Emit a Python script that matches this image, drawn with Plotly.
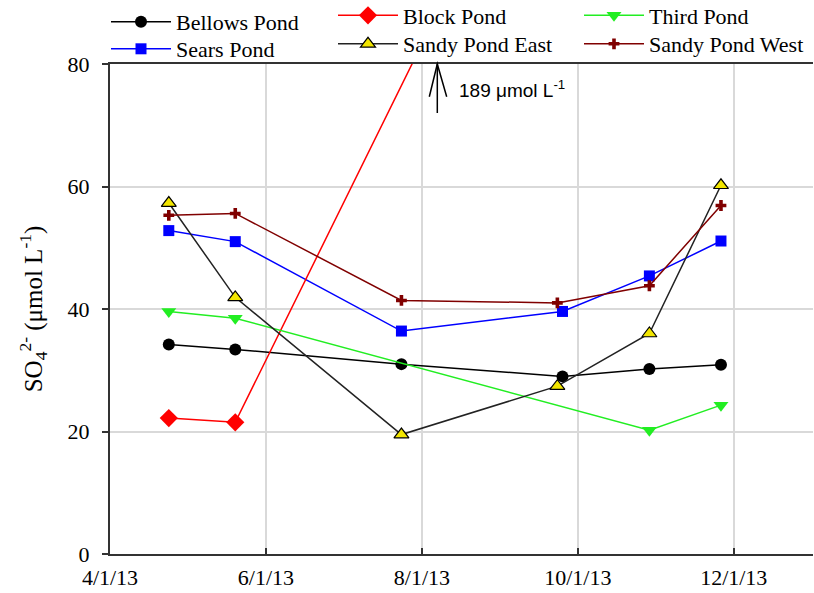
import plotly.graph_objects as go

# Sulfate concentrations (umol/L) by pond and sampling date
bellows_dates = ["2013-04-24", "2013-05-20", "2013-07-24", "2013-09-25", "2013-10-29", "2013-11-26"]
bellows_so4 = [34.2, 33.4, 31.0, 29.0, 30.2, 30.9]

sears_dates = ["2013-04-24", "2013-05-20", "2013-07-24", "2013-09-25", "2013-10-29", "2013-11-26"]
sears_so4 = [52.8, 51.0, 36.4, 39.6, 45.4, 51.1]

block_dates = ["2013-04-24", "2013-05-20", "2013-12-04"]
block_so4 = [22.2, 21.5, 189]

third_dates = ["2013-04-24", "2013-05-20", "2013-10-29", "2013-11-26"]
third_so4 = [39.6, 38.5, 20.2, 24.3]

sandy_east_dates = ["2013-04-24", "2013-05-20", "2013-07-24", "2013-09-23", "2013-10-29", "2013-11-26"]
sandy_east_so4 = [57.3, 41.9, 19.5, 27.4, 36.0, 60.2]

sandy_west_dates = ["2013-04-24", "2013-05-20", "2013-07-24", "2013-09-23", "2013-10-29", "2013-11-26"]
sandy_west_so4 = [55.3, 55.6, 41.4, 41.0, 43.8, 56.9]

tick_dates = ["2013-04-01", "2013-06-01", "2013-08-01", "2013-10-01", "2013-12-01"]
tick_labels = ["4/1/13", "6/1/13", "8/1/13", "10/1/13", "12/1/13"]

SERIF = "Liberation Serif, Times New Roman, serif"
SANS = "Liberation Sans, Arial, sans-serif"
W, H = 814, 593
ML, MR, MT, MB = 110, 1, 64, 39
PW, PH = W - ML - MR, H - MT - MB


def px_x(p):
    return (p - ML) / PW


def px_y(p):
    return 1 - (p - MT) / PH


fig = go.Figure()

series = [
    ("Bellows Pond", bellows_dates, bellows_so4, "#000000",
     dict(symbol="circle", size=12, color="#000000"), "legend2"),
    ("Sears Pond", sears_dates, sears_so4, "#0000ff",
     dict(symbol="square", size=11, color="#0000ff"), "legend3"),
    ("Block Pond", block_dates, block_so4, "#ff0000",
     dict(symbol="diamond", size=14, color="#ff0000"), "legend4"),
    ("Third Pond", third_dates, third_so4, "#22ee22",
     dict(symbol="triangle-down", size=13, color="#22ee22"), "legend5"),
    ("Sandy Pond East", sandy_east_dates, sandy_east_so4, "#222222",
     dict(symbol="triangle-up", size=13, color="#f2e600",
          line=dict(color="#000000", width=1.2)), "legend6"),
    ("Sandy Pond West", sandy_west_dates, sandy_west_so4, "#800000",
     dict(symbol="cross", size=9, color="#800000"), "legend7"),
]

for name, xs, ys, lc, mk, lg in series:
    fig.add_trace(go.Scatter(
        x=xs, y=ys, name=name, mode="lines+markers",
        line=dict(color=lc, width=1.5), marker=mk,
        legend=lg, showlegend=True, cliponaxis=True,
    ))

# one legend per entry, laid out as a 3 x 2 grid above the plot
legend_pos = {
    "legend2": (106, 22.0),
    "legend3": (106, 49.0),
    "legend4": (333, 15.5),
    "legend5": (579, 15.5),
    "legend6": (333, 44.0),
    "legend7": (579, 44.0),
}
legend_layout = {}
for key, (lx, ly) in legend_pos.items():
    legend_layout[key] = dict(
        x=px_x(lx), y=px_y(ly), xanchor="left", yanchor="middle",
        bgcolor="rgba(0,0,0,0)", borderwidth=0, itemwidth=60,
        font=dict(family=SERIF, size=22, color="#000000"),
    )

# arrow marking the off-scale Block Pond value
ax = px_x(437.3)
shapes = [
    dict(type="line", xref="paper", yref="paper", x0=ax, x1=ax,
         y0=px_y(113), y1=px_y(64), line=dict(color="#000000", width=1.5)),
    dict(type="path", xref="paper", yref="paper",
         path=f"M{px_x(429.3)},{px_y(96.7)} L{ax},{px_y(64)} L{px_x(446.7)},{px_y(96.7)}",
         line=dict(color="#000000", width=1.5)),
]

fig.update_layout(
    width=W, height=H,
    margin=dict(l=ML, r=MR, t=MT, b=MB, pad=0, autoexpand=False),
    paper_bgcolor="white", plot_bgcolor="white",
    font=dict(family=SERIF, size=22, color="#000000"),
    showlegend=True,
    shapes=shapes,
    annotations=[dict(
        xref="paper", yref="paper", x=px_x(457), y=px_y(89),
        xanchor="left", yanchor="middle", showarrow=False,
        text=f"{block_so4[-1]} μmol L<sup>-1</sup>",
        font=dict(family=SANS, size=19, color="#000000"),
    )],
    **legend_layout,
)

fig.update_xaxes(
    type="date", range=["2013-04-01", "2014-01-01"],
    tickvals=tick_dates, ticktext=tick_labels,
    ticks="inside", ticklen=6, tickwidth=1.5, tickcolor="#333333",
    showgrid=True, gridcolor="#d9d9d9", gridwidth=1.5,
    showline=True, linecolor="#333333", linewidth=2, mirror=True,
    zeroline=False, ticklabelstandoff=3,
    tickfont=dict(family=SERIF, size=22, color="#000000"),
)
fig.update_yaxes(
    range=[0, 80], tickvals=[0, 20, 40, 60, 80],
    ticks="outside", ticklen=6, tickwidth=1.5, tickcolor="#333333",
    showgrid=True, gridcolor="#d9d9d9", gridwidth=1.5,
    showline=True, linecolor="#333333", linewidth=2, mirror=False,
    zeroline=False, ticklabelstandoff=8,
    tickfont=dict(family=SERIF, size=22, color="#000000"),
    title=dict(text="SO<sub>4</sub><sup>2-</sup> (μmol L<sup>-1</sup>)",
               font=dict(family=SERIF, size=25, color="#000000"), standoff=18),
)

fig.write_html("out.html")
